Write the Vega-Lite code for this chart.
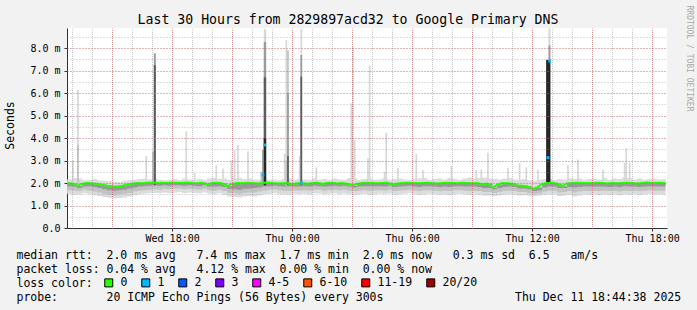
{
  "$schema": "https://vega.github.io/schema/vega-lite/v6.json",
  "width": 600,
  "height": 200,
  "autosize": {"type": "none"},
  "padding": {"left": 67, "top": 28, "right": 30, "bottom": 82},
  "background": "#f2f2f2",
  "config": {"font": "DejaVu Sans Mono", "view": {"fill": "#ffffff", "stroke": null}},
  "datasets": {
    "smoke": [
      {"t":"2025-12-10T12:45Z","m":2.0,"lo":1.52,"a":1.68,"b":1.86,"hi":2.16},
      {"t":"2025-12-10T13:00Z","m":1.98,"lo":1.48,"a":1.66,"b":1.84,"hi":2.22},
      {"t":"2025-12-10T13:15Z","m":1.87,"lo":1.5,"a":1.64,"b":1.78,"hi":2.2},
      {"t":"2025-12-10T13:30Z","m":1.97,"lo":1.55,"a":1.7,"b":1.85,"hi":2.12},
      {"t":"2025-12-10T13:45Z","m":2.0,"lo":1.5,"a":1.66,"b":1.86,"hi":2.14},
      {"t":"2025-12-10T14:00Z","m":1.99,"lo":1.47,"a":1.62,"b":1.82,"hi":2.18},
      {"t":"2025-12-10T14:15Z","m":1.96,"lo":1.42,"a":1.58,"b":1.78,"hi":2.12},
      {"t":"2025-12-10T14:30Z","m":1.92,"lo":1.38,"a":1.52,"b":1.72,"hi":2.1},
      {"t":"2025-12-10T14:45Z","m":1.88,"lo":1.34,"a":1.48,"b":1.68,"hi":2.08},
      {"t":"2025-12-10T15:00Z","m":1.86,"lo":1.32,"a":1.46,"b":1.66,"hi":2.06},
      {"t":"2025-12-10T15:15Z","m":1.84,"lo":1.33,"a":1.5,"b":1.68,"hi":2.05},
      {"t":"2025-12-10T15:30Z","m":1.88,"lo":1.36,"a":1.52,"b":1.7,"hi":2.1},
      {"t":"2025-12-10T15:45Z","m":1.93,"lo":1.4,"a":1.56,"b":1.76,"hi":2.12},
      {"t":"2025-12-10T16:00Z","m":1.97,"lo":1.46,"a":1.62,"b":1.8,"hi":2.15},
      {"t":"2025-12-10T16:15Z","m":2.0,"lo":1.5,"a":1.66,"b":1.84,"hi":2.18},
      {"t":"2025-12-10T16:30Z","m":1.99,"lo":1.52,"a":1.68,"b":1.86,"hi":2.2},
      {"t":"2025-12-10T16:45Z","m":2.01,"lo":1.55,"a":1.7,"b":1.88,"hi":2.16},
      {"t":"2025-12-10T17:00Z","m":2.02,"lo":1.56,"a":1.72,"b":1.9,"hi":2.2},
      {"t":"2025-12-10T17:15Z","m":2.0,"lo":1.55,"a":1.7,"b":1.88,"hi":2.14},
      {"t":"2025-12-10T17:30Z","m":2.01,"lo":1.58,"a":1.74,"b":1.9,"hi":2.12},
      {"t":"2025-12-10T17:45Z","m":2.0,"lo":1.55,"a":1.72,"b":1.88,"hi":2.15},
      {"t":"2025-12-10T18:00Z","m":2.02,"lo":1.57,"a":1.74,"b":1.9,"hi":2.18},
      {"t":"2025-12-10T18:15Z","m":2.01,"lo":1.6,"a":1.76,"b":1.9,"hi":2.13},
      {"t":"2025-12-10T18:30Z","m":2.0,"lo":1.55,"a":1.72,"b":1.88,"hi":2.2},
      {"t":"2025-12-10T18:45Z","m":2.02,"lo":1.58,"a":1.74,"b":1.9,"hi":2.16},
      {"t":"2025-12-10T19:00Z","m":2.0,"lo":1.56,"a":1.72,"b":1.88,"hi":2.14},
      {"t":"2025-12-10T19:15Z","m":1.99,"lo":1.54,"a":1.7,"b":1.86,"hi":2.18},
      {"t":"2025-12-10T19:30Z","m":2.01,"lo":1.58,"a":1.74,"b":1.9,"hi":2.15},
      {"t":"2025-12-10T19:45Z","m":1.94,"lo":1.52,"a":1.68,"b":1.84,"hi":2.2},
      {"t":"2025-12-10T20:00Z","m":2.0,"lo":1.5,"a":1.66,"b":1.84,"hi":2.22},
      {"t":"2025-12-10T20:15Z","m":2.01,"lo":1.55,"a":1.7,"b":1.86,"hi":2.18},
      {"t":"2025-12-10T20:30Z","m":1.98,"lo":1.48,"a":1.64,"b":1.82,"hi":2.2},
      {"t":"2025-12-10T20:45Z","m":1.86,"lo":1.4,"a":1.56,"b":1.74,"hi":2.14},
      {"t":"2025-12-10T21:00Z","m":1.96,"lo":1.38,"a":1.54,"b":1.72,"hi":2.2},
      {"t":"2025-12-10T21:15Z","m":2.0,"lo":1.36,"a":1.52,"b":1.7,"hi":2.22},
      {"t":"2025-12-10T21:30Z","m":1.99,"lo":1.4,"a":1.56,"b":1.74,"hi":2.18},
      {"t":"2025-12-10T21:45Z","m":2.01,"lo":1.42,"a":1.58,"b":1.76,"hi":2.2},
      {"t":"2025-12-10T22:00Z","m":2.0,"lo":1.4,"a":1.58,"b":1.78,"hi":2.16},
      {"t":"2025-12-10T22:15Z","m":1.98,"lo":1.45,"a":1.62,"b":1.8,"hi":2.15},
      {"t":"2025-12-10T22:30Z","m":2.0,"lo":1.5,"a":1.66,"b":1.84,"hi":2.2},
      {"t":"2025-12-10T22:45Z","m":2.02,"lo":1.52,"a":1.7,"b":1.86,"hi":2.14},
      {"t":"2025-12-10T23:00Z","m":2.0,"lo":1.55,"a":1.72,"b":1.88,"hi":2.16},
      {"t":"2025-12-10T23:15Z","m":1.98,"lo":1.5,"a":1.68,"b":1.86,"hi":2.12},
      {"t":"2025-12-10T23:30Z","m":1.99,"lo":1.5,"a":1.66,"b":1.84,"hi":2.18},
      {"t":"2025-12-10T23:45Z","m":2.0,"lo":1.48,"a":1.66,"b":1.86,"hi":2.2},
      {"t":"2025-12-11T00:00Z","m":1.95,"lo":1.52,"a":1.68,"b":1.84,"hi":2.15},
      {"t":"2025-12-11T00:15Z","m":1.99,"lo":1.5,"a":1.66,"b":1.84,"hi":2.18},
      {"t":"2025-12-11T00:30Z","m":2.0,"lo":1.52,"a":1.68,"b":1.86,"hi":2.16},
      {"t":"2025-12-11T00:45Z","m":1.97,"lo":1.5,"a":1.66,"b":1.84,"hi":2.14},
      {"t":"2025-12-11T01:00Z","m":2.0,"lo":1.55,"a":1.7,"b":1.88,"hi":2.2},
      {"t":"2025-12-11T01:15Z","m":2.01,"lo":1.53,"a":1.7,"b":1.86,"hi":2.16},
      {"t":"2025-12-11T01:30Z","m":1.96,"lo":1.5,"a":1.66,"b":1.84,"hi":2.18},
      {"t":"2025-12-11T01:45Z","m":2.0,"lo":1.52,"a":1.68,"b":1.86,"hi":2.14},
      {"t":"2025-12-11T02:00Z","m":2.01,"lo":1.55,"a":1.7,"b":1.88,"hi":2.2},
      {"t":"2025-12-11T02:15Z","m":1.98,"lo":1.5,"a":1.68,"b":1.86,"hi":2.16},
      {"t":"2025-12-11T02:30Z","m":2.0,"lo":1.53,"a":1.7,"b":1.88,"hi":2.15},
      {"t":"2025-12-11T02:45Z","m":1.97,"lo":1.5,"a":1.66,"b":1.84,"hi":2.22},
      {"t":"2025-12-11T03:00Z","m":1.88,"lo":1.48,"a":1.64,"b":1.8,"hi":2.2},
      {"t":"2025-12-11T03:15Z","m":1.97,"lo":1.5,"a":1.66,"b":1.84,"hi":2.15},
      {"t":"2025-12-11T03:30Z","m":2.0,"lo":1.52,"a":1.68,"b":1.86,"hi":2.18},
      {"t":"2025-12-11T03:45Z","m":2.01,"lo":1.48,"a":1.66,"b":1.86,"hi":2.2},
      {"t":"2025-12-11T04:00Z","m":2.0,"lo":1.5,"a":1.68,"b":1.86,"hi":2.14},
      {"t":"2025-12-11T04:15Z","m":1.99,"lo":1.52,"a":1.68,"b":1.86,"hi":2.16},
      {"t":"2025-12-11T04:30Z","m":2.0,"lo":1.5,"a":1.66,"b":1.84,"hi":2.2},
      {"t":"2025-12-11T04:45Z","m":2.01,"lo":1.53,"a":1.7,"b":1.88,"hi":2.15},
      {"t":"2025-12-11T05:00Z","m":1.93,"lo":1.48,"a":1.64,"b":1.82,"hi":2.18},
      {"t":"2025-12-11T05:15Z","m":1.98,"lo":1.5,"a":1.66,"b":1.84,"hi":2.2},
      {"t":"2025-12-11T05:30Z","m":2.0,"lo":1.52,"a":1.68,"b":1.86,"hi":2.16},
      {"t":"2025-12-11T05:45Z","m":2.01,"lo":1.55,"a":1.7,"b":1.88,"hi":2.14},
      {"t":"2025-12-11T06:00Z","m":2.0,"lo":1.5,"a":1.66,"b":1.84,"hi":2.18},
      {"t":"2025-12-11T06:15Z","m":1.99,"lo":1.48,"a":1.64,"b":1.82,"hi":2.2},
      {"t":"2025-12-11T06:30Z","m":2.0,"lo":1.5,"a":1.68,"b":1.86,"hi":2.22},
      {"t":"2025-12-11T06:45Z","m":2.01,"lo":1.52,"a":1.68,"b":1.86,"hi":2.15},
      {"t":"2025-12-11T07:00Z","m":2.0,"lo":1.5,"a":1.66,"b":1.84,"hi":2.18},
      {"t":"2025-12-11T07:15Z","m":1.98,"lo":1.48,"a":1.64,"b":1.82,"hi":2.2},
      {"t":"2025-12-11T07:30Z","m":2.0,"lo":1.5,"a":1.66,"b":1.84,"hi":2.16},
      {"t":"2025-12-11T07:45Z","m":2.01,"lo":1.47,"a":1.64,"b":1.82,"hi":2.22},
      {"t":"2025-12-11T08:00Z","m":2.0,"lo":1.5,"a":1.68,"b":1.86,"hi":2.18},
      {"t":"2025-12-11T08:15Z","m":1.99,"lo":1.52,"a":1.68,"b":1.86,"hi":2.14},
      {"t":"2025-12-11T08:30Z","m":2.01,"lo":1.5,"a":1.66,"b":1.84,"hi":2.2},
      {"t":"2025-12-11T08:45Z","m":2.0,"lo":1.48,"a":1.64,"b":1.84,"hi":2.25},
      {"t":"2025-12-11T09:00Z","m":1.99,"lo":1.5,"a":1.66,"b":1.84,"hi":2.2},
      {"t":"2025-12-11T09:15Z","m":2.0,"lo":1.48,"a":1.64,"b":1.82,"hi":2.22},
      {"t":"2025-12-11T09:30Z","m":1.95,"lo":1.45,"a":1.6,"b":1.78,"hi":2.25},
      {"t":"2025-12-11T09:45Z","m":1.98,"lo":1.44,"a":1.6,"b":1.78,"hi":2.2},
      {"t":"2025-12-11T10:00Z","m":1.8,"lo":1.42,"a":1.56,"b":1.72,"hi":2.18},
      {"t":"2025-12-11T10:15Z","m":1.92,"lo":1.45,"a":1.6,"b":1.78,"hi":2.16},
      {"t":"2025-12-11T10:30Z","m":2.0,"lo":1.48,"a":1.64,"b":1.82,"hi":2.2},
      {"t":"2025-12-11T10:45Z","m":1.99,"lo":1.5,"a":1.66,"b":1.84,"hi":2.22},
      {"t":"2025-12-11T11:00Z","m":1.97,"lo":1.48,"a":1.64,"b":1.82,"hi":2.16},
      {"t":"2025-12-11T11:15Z","m":1.9,"lo":1.45,"a":1.6,"b":1.76,"hi":2.14},
      {"t":"2025-12-11T11:30Z","m":1.88,"lo":1.46,"a":1.6,"b":1.76,"hi":2.18},
      {"t":"2025-12-11T11:45Z","m":1.86,"lo":1.43,"a":1.56,"b":1.72,"hi":2.12},
      {"t":"2025-12-11T12:00Z","m":1.74,"lo":1.42,"a":1.52,"b":1.64,"hi":2.1},
      {"t":"2025-12-11T12:15Z","m":1.8,"lo":1.44,"a":1.54,"b":1.68,"hi":2.14},
      {"t":"2025-12-11T12:30Z","m":1.96,"lo":1.48,"a":1.62,"b":1.8,"hi":2.18},
      {"t":"2025-12-11T12:45Z","m":2.0,"lo":1.5,"a":1.66,"b":1.84,"hi":2.2},
      {"t":"2025-12-11T13:00Z","m":2.01,"lo":1.5,"a":1.66,"b":1.84,"hi":2.15},
      {"t":"2025-12-11T13:15Z","m":1.97,"lo":1.42,"a":1.58,"b":1.78,"hi":2.18},
      {"t":"2025-12-11T13:30Z","m":1.86,"lo":1.45,"a":1.6,"b":1.78,"hi":2.16},
      {"t":"2025-12-11T13:45Z","m":1.98,"lo":1.48,"a":1.64,"b":1.82,"hi":2.2},
      {"t":"2025-12-11T14:00Z","m":2.0,"lo":1.4,"a":1.58,"b":1.8,"hi":2.18},
      {"t":"2025-12-11T14:15Z","m":2.01,"lo":1.45,"a":1.62,"b":1.82,"hi":2.2},
      {"t":"2025-12-11T14:30Z","m":2.0,"lo":1.5,"a":1.66,"b":1.84,"hi":2.15},
      {"t":"2025-12-11T14:45Z","m":1.99,"lo":1.48,"a":1.64,"b":1.84,"hi":2.18},
      {"t":"2025-12-11T15:00Z","m":2.0,"lo":1.5,"a":1.66,"b":1.84,"hi":2.2},
      {"t":"2025-12-11T15:15Z","m":2.01,"lo":1.47,"a":1.64,"b":1.84,"hi":2.16},
      {"t":"2025-12-11T15:30Z","m":2.0,"lo":1.5,"a":1.66,"b":1.84,"hi":2.22},
      {"t":"2025-12-11T15:45Z","m":1.98,"lo":1.48,"a":1.64,"b":1.82,"hi":2.15},
      {"t":"2025-12-11T16:00Z","m":2.0,"lo":1.5,"a":1.66,"b":1.84,"hi":2.2},
      {"t":"2025-12-11T16:15Z","m":1.99,"lo":1.46,"a":1.62,"b":1.82,"hi":2.18},
      {"t":"2025-12-11T16:30Z","m":2.0,"lo":1.5,"a":1.66,"b":1.86,"hi":2.25},
      {"t":"2025-12-11T16:45Z","m":2.01,"lo":1.48,"a":1.64,"b":1.84,"hi":2.22},
      {"t":"2025-12-11T17:00Z","m":2.0,"lo":1.5,"a":1.66,"b":1.84,"hi":2.16},
      {"t":"2025-12-11T17:15Z","m":1.98,"lo":1.47,"a":1.64,"b":1.82,"hi":2.2},
      {"t":"2025-12-11T17:30Z","m":2.0,"lo":1.5,"a":1.66,"b":1.84,"hi":2.15},
      {"t":"2025-12-11T17:45Z","m":2.02,"lo":1.52,"a":1.68,"b":1.86,"hi":2.18},
      {"t":"2025-12-11T18:00Z","m":2.0,"lo":1.48,"a":1.64,"b":1.84,"hi":2.2},
      {"t":"2025-12-11T18:15Z","m":2.01,"lo":1.5,"a":1.66,"b":1.84,"hi":2.16},
      {"t":"2025-12-11T18:30Z","m":2.0,"lo":1.48,"a":1.66,"b":1.84,"hi":2.18},
      {"t":"2025-12-11T18:40Z","m":2.0,"lo":1.5,"a":1.66,"b":1.84,"hi":2.18}
    ],
    "spikes": [
      {"t":"2025-12-10T13:00Z","t2":"2025-12-10T13:05Z","lo":2.0,"hi":3.0,"g":"l"},
      {"t":"2025-12-10T13:15Z","t2":"2025-12-10T13:20Z","lo":2.0,"hi":6.13,"g":"l"},
      {"t":"2025-12-10T13:15Z","t2":"2025-12-10T13:20Z","lo":2.0,"hi":3.7,"g":"l2"},
      {"t":"2025-12-10T16:40Z","t2":"2025-12-10T16:45Z","lo":2.0,"hi":3.2,"g":"l"},
      {"t":"2025-12-10T17:00Z","t2":"2025-12-10T17:05Z","lo":2.0,"hi":3.4,"g":"l2"},
      {"t":"2025-12-10T17:05Z","t2":"2025-12-10T17:11Z","lo":1.9,"hi":7.76,"g":"m"},
      {"t":"2025-12-10T17:05Z","t2":"2025-12-10T17:11Z","lo":1.9,"hi":7.24,"g":"d"},
      {"t":"2025-12-10T18:40Z","t2":"2025-12-10T18:45Z","lo":2.0,"hi":4.3,"g":"l"},
      {"t":"2025-12-10T19:05Z","t2":"2025-12-10T19:10Z","lo":2.0,"hi":2.45,"g":"l"},
      {"t":"2025-12-10T20:10Z","t2":"2025-12-10T20:15Z","lo":2.0,"hi":2.8,"g":"l"},
      {"t":"2025-12-10T20:30Z","t2":"2025-12-10T20:35Z","lo":2.0,"hi":2.65,"g":"l"},
      {"t":"2025-12-10T20:55Z","t2":"2025-12-10T21:00Z","lo":2.0,"hi":3.0,"g":"l"},
      {"t":"2025-12-10T21:05Z","t2":"2025-12-10T21:10Z","lo":2.0,"hi":3.47,"g":"l"},
      {"t":"2025-12-10T21:15Z","t2":"2025-12-10T21:20Z","lo":2.0,"hi":3.69,"g":"l"},
      {"t":"2025-12-10T21:45Z","t2":"2025-12-10T21:50Z","lo":2.0,"hi":3.4,"g":"l"},
      {"t":"2025-12-10T22:25Z","t2":"2025-12-10T22:30Z","lo":2.0,"hi":2.5,"g":"l2"},
      {"t":"2025-12-10T22:30Z","t2":"2025-12-10T22:35Z","lo":1.9,"hi":3.47,"g":"m"},
      {"t":"2025-12-10T22:35Z","t2":"2025-12-10T22:42Z","lo":1.9,"hi":8.84,"g":"l"},
      {"t":"2025-12-10T22:35Z","t2":"2025-12-10T22:42Z","lo":1.9,"hi":8.27,"g":"m"},
      {"t":"2025-12-10T22:35Z","t2":"2025-12-10T22:42Z","lo":1.9,"hi":6.7,"g":"d"},
      {"t":"2025-12-10T22:35Z","t2":"2025-12-10T22:42Z","lo":1.9,"hi":4.0,"g":"k"},
      {"t":"2025-12-10T23:35Z","t2":"2025-12-10T23:40Z","lo":2.0,"hi":3.3,"g":"l"},
      {"t":"2025-12-10T23:40Z","t2":"2025-12-10T23:45Z","lo":1.9,"hi":8.36,"g":"l"},
      {"t":"2025-12-10T23:40Z","t2":"2025-12-10T23:45Z","lo":1.9,"hi":3.0,"g":"l2"},
      {"t":"2025-12-10T23:45Z","t2":"2025-12-10T23:50Z","lo":1.9,"hi":7.9,"g":"l2"},
      {"t":"2025-12-10T23:45Z","t2":"2025-12-10T23:50Z","lo":1.9,"hi":6.0,"g":"m"},
      {"t":"2025-12-10T23:45Z","t2":"2025-12-10T23:50Z","lo":1.9,"hi":3.2,"g":"d"},
      {"t":"2025-12-11T00:20Z","t2":"2025-12-11T00:25Z","lo":2.0,"hi":3.2,"g":"l"},
      {"t":"2025-12-11T00:25Z","t2":"2025-12-11T00:30Z","lo":1.9,"hi":8.84,"g":"l"},
      {"t":"2025-12-11T00:25Z","t2":"2025-12-11T00:30Z","lo":1.9,"hi":7.69,"g":"m"},
      {"t":"2025-12-11T00:25Z","t2":"2025-12-11T00:30Z","lo":1.9,"hi":6.72,"g":"d"},
      {"t":"2025-12-11T01:10Z","t2":"2025-12-11T01:15Z","lo":2.0,"hi":2.68,"g":"l"},
      {"t":"2025-12-11T02:55Z","t2":"2025-12-11T03:05Z","lo":2.0,"hi":5.54,"g":"l"},
      {"t":"2025-12-11T03:00Z","t2":"2025-12-11T03:05Z","lo":2.0,"hi":8.06,"g":"l"},
      {"t":"2025-12-11T03:05Z","t2":"2025-12-11T03:10Z","lo":2.0,"hi":3.9,"g":"l"},
      {"t":"2025-12-11T03:45Z","t2":"2025-12-11T03:50Z","lo":2.0,"hi":3.1,"g":"l"},
      {"t":"2025-12-11T03:50Z","t2":"2025-12-11T03:55Z","lo":2.0,"hi":7.24,"g":"l"},
      {"t":"2025-12-11T04:35Z","t2":"2025-12-11T04:40Z","lo":2.0,"hi":2.5,"g":"l"},
      {"t":"2025-12-11T04:40Z","t2":"2025-12-11T04:45Z","lo":2.0,"hi":4.24,"g":"l"},
      {"t":"2025-12-11T05:15Z","t2":"2025-12-11T05:20Z","lo":2.0,"hi":2.68,"g":"l"},
      {"t":"2025-12-11T06:10Z","t2":"2025-12-11T06:15Z","lo":2.0,"hi":3.29,"g":"l"},
      {"t":"2025-12-11T06:30Z","t2":"2025-12-11T06:35Z","lo":2.0,"hi":2.57,"g":"l"},
      {"t":"2025-12-11T07:55Z","t2":"2025-12-11T08:00Z","lo":2.0,"hi":2.76,"g":"l"},
      {"t":"2025-12-11T09:10Z","t2":"2025-12-11T09:15Z","lo":2.0,"hi":2.57,"g":"l"},
      {"t":"2025-12-11T09:25Z","t2":"2025-12-11T09:30Z","lo":2.0,"hi":2.6,"g":"l"},
      {"t":"2025-12-11T09:45Z","t2":"2025-12-11T09:50Z","lo":2.0,"hi":3.35,"g":"l"},
      {"t":"2025-12-11T10:45Z","t2":"2025-12-11T10:50Z","lo":2.0,"hi":2.68,"g":"l"},
      {"t":"2025-12-11T11:20Z","t2":"2025-12-11T11:25Z","lo":2.0,"hi":2.9,"g":"l"},
      {"t":"2025-12-11T11:40Z","t2":"2025-12-11T11:45Z","lo":2.0,"hi":2.7,"g":"l"},
      {"t":"2025-12-11T12:15Z","t2":"2025-12-11T12:20Z","lo":2.0,"hi":2.6,"g":"l"},
      {"t":"2025-12-11T12:42Z","t2":"2025-12-11T12:55Z","lo":2.0,"hi":7.47,"g":"k"},
      {"t":"2025-12-11T12:49Z","t2":"2025-12-11T12:55Z","lo":7.47,"hi":8.13,"g":"m"},
      {"t":"2025-12-11T12:49Z","t2":"2025-12-11T12:55Z","lo":8.13,"hi":8.87,"g":"l"},
      {"t":"2025-12-11T13:45Z","t2":"2025-12-11T13:50Z","lo":2.0,"hi":2.8,"g":"l"},
      {"t":"2025-12-11T14:15Z","t2":"2025-12-11T14:20Z","lo":2.0,"hi":3.05,"g":"l"},
      {"t":"2025-12-11T15:30Z","t2":"2025-12-11T15:35Z","lo":2.0,"hi":2.6,"g":"l"},
      {"t":"2025-12-11T16:35Z","t2":"2025-12-11T16:40Z","lo":2.0,"hi":2.9,"g":"l"},
      {"t":"2025-12-11T16:40Z","t2":"2025-12-11T16:45Z","lo":2.0,"hi":3.54,"g":"l"},
      {"t":"2025-12-11T16:50Z","t2":"2025-12-11T16:55Z","lo":2.0,"hi":2.9,"g":"l"}
    ],
    "loss": [
      {"t":"2025-12-10T22:32:30Z","m":2.36,"loss":"1"},
      {"t":"2025-12-10T22:37:30Z","m":3.69,"loss":"1"},
      {"t":"2025-12-11T00:27:30Z","m":2.03,"loss":"1"},
      {"t":"2025-12-11T12:47:30Z","m":3.13,"loss":"1"},
      {"t":"2025-12-11T12:52:30Z","m":7.42,"loss":"1"}
    ]
  },
  "layer": [
    {
      "data": {"name": "smoke"},
      "mark": {"type": "area", "interpolate": "step-after", "color": "#dcdcdc"},
      "encoding": {
        "x": {"field": "t", "type": "temporal",
          "scale": {"type": "utc", "domain": [1765370678000, 1765478678000]},
          "axis": {"orient": "bottom", "grid": true, "gridColor": "#8f8f8f", "gridOpacity": 0.5, "gridDash": [1, 1], "gridDashOffset": 0.5,
            "values": [1765371600000,1765375200000,1765378800000,1765382400000,1765386000000,1765389600000,1765393200000,1765396800000,1765400400000,1765404000000,1765407600000,1765411200000,1765414800000,1765418400000,1765422000000,1765425600000,1765429200000,1765432800000,1765436400000,1765440000000,1765443600000,1765447200000,1765450800000,1765454400000,1765458000000,1765461600000,1765465200000,1765468800000,1765472400000,1765476000000],
            "labels": false, "ticks": false, "domain": false, "title": null, "zindex": 1}},
        "y": {"field": "lo", "type": "quantitative", "scale": {"domain": [0, 8.89], "nice": false, "zero": true},
          "axis": {"orient": "left", "grid": true, "gridColor": "#8f8f8f", "gridOpacity": 0.6, "gridDash": [1, 2], "gridDashOffset": 0, "values": [0.5, 1, 1.5, 2, 2.5, 3, 3.5, 4, 4.5, 5, 5.5, 6, 6.5, 7, 7.5, 8, 8.5], "labels": false, "ticks": false, "domain": false, "title": null, "zindex": 1}},
        "y2": {"field": "hi"}
      }
    },
    {
      "data": {"name": "smoke"},
      "mark": {"type": "area", "interpolate": "step-after", "color": "#c2c2c2"},
      "encoding": {
        "x": {"field": "t", "type": "temporal",
          "scale": {"type": "utc", "domain": [1765370678000, 1765478678000]},
          "axis": {"orient": "bottom", "grid": true, "gridColor": "#de5050", "gridOpacity": 0.45, "gridDash": [1, 1], "gridDashOffset": 0.5,
            "values": [1765378800000,1765389600000,1765400400000,1765411200000,1765422000000,1765432800000,1765443600000,1765454400000,1765465200000,1765476000000],
            "labels": false, "ticks": false, "domain": false, "title": null, "zindex": 1}},
        "y": {"field": "a", "type": "quantitative", "scale": {"domain": [0, 8.89], "nice": false, "zero": true},
          "axis": {"orient": "left", "grid": true, "gridColor": "#de5050", "gridOpacity": 0.6, "gridDash": [1, 2], "gridDashOffset": 0, "values": [1, 2, 3, 4, 5, 6, 7, 8], "labels": false, "ticks": false, "domain": false, "title": null, "zindex": 1}},
        "y2": {"field": "m"}
      }
    },
    {
      "data": {"name": "smoke"},
      "mark": {"type": "area", "interpolate": "step-after", "color": "#989898"},
      "encoding": {
        "x": {"field": "t", "type": "temporal",
          "scale": {"type": "utc", "domain": [1765370678000, 1765478678000]},
          "axis": {"orient": "bottom", "grid": false,
            "values": [1765389600000,1765411200000,1765432800000,1765454400000,1765476000000],
            "labelExpr": "utcFormat(datum.value, '%a %H:%M')", "labelFont": "DejaVu Sans Mono", "labelFontSize": 10, "labelColor": "#000000", "labelPadding": 2, "labelFlush": false, "labelOverlap": false,
            "ticks": true, "tickSize": 3, "tickColor": "#303030", "domain": true, "domainColor": "#303030",
            "title": ["median rtt:\u00a0\u00a02.0 ms avg\u00a0\u00a0\u00a07.4 ms max\u00a0\u00a01.7 ms min\u00a0\u00a02.0 ms now\u00a0\u00a0\u00a00.3 ms sd\u00a0\u00a06.5\u00a0\u00a0\u00a0am/s", "packet loss:\u00a00.04 % avg\u00a0\u00a0\u00a04.12 % max\u00a0\u00a00.00 % min\u00a0\u00a00.00 % now", "loss color:", "probe:\u00a0\u00a0\u00a0\u00a0\u00a0\u00a0\u00a020 ICMP Echo Pings (56 Bytes) every 300s\u00a0\u00a0\u00a0\u00a0\u00a0\u00a0\u00a0\u00a0\u00a0\u00a0\u00a0\u00a0\u00a0\u00a0\u00a0\u00a0\u00a0\u00a0\u00a0Thu Dec 11 18:44:38 2025"],
            "titleFont": "DejaVu Sans Mono", "titleFontSize": 11.5, "titleFontWeight": "normal", "titleColor": "#000000", "titleLineHeight": 14, "titleAlign": "left", "titleBaseline": "alphabetic", "titleX": -51, "titleY": 30}},
        "y": {"field": "b", "type": "quantitative", "scale": {"domain": [0, 8.89], "nice": false, "zero": true},
          "axis": {"orient": "left", "grid": false, "values": [0, 1, 2, 3, 4, 5, 6, 7, 8],
            "labelExpr": "datum.value == 0 ? '0.0' : format(datum.value, '.1f') + ' m'", "labelFont": "DejaVu Sans Mono", "labelFontSize": 10, "labelColor": "#000000", "labelPadding": 4,
            "ticks": true, "tickSize": 3, "tickColor": "#303030", "domain": true, "domainColor": "#303030",
            "title": "Seconds", "titleFont": "DejaVu Sans Mono", "titleFontSize": 11.5, "titleFontWeight": "normal", "titleColor": "#000000", "titleAngle": 270, "titleAlign": "center", "titleBaseline": "middle", "titleX": -57, "titleY": 97}},
        "y2": {"field": "m"}
      }
    },
    {
      "data": {"name": "spikes"},
      "mark": {"type": "rect"},
      "encoding": {
        "x": {"field": "t", "type": "temporal",
          "scale": {"type": "utc", "domain": [1765370678000, 1765478678000]},
          "axis": null},
        "x2": {"field": "t2"},
        "y": {"field": "lo", "type": "quantitative", "scale": {"domain": [0, 8.89], "nice": false, "zero": true},
          "axis": {"orient": "right", "grid": false, "labels": false, "ticks": false, "domain": false,
            "title": "RRDTOOL / TOBI OETIKER", "titleFont": "DejaVu Sans Mono", "titleFontSize": 8, "titleFontWeight": "normal", "titleColor": "#a8a8a8", "titleAngle": 90, "titleAlign": "left", "titleBaseline": "middle", "titleX": 21, "titleY": -23}},
        "y2": {"field": "hi"},
        "fill": {"field": "g", "type": "nominal", "legend": null,
          "scale": {"domain": ["l", "l2", "m", "d", "k"], "range": ["#d6d6d6", "#c0c0c0", "#9a9a9a", "#5c5c5c", "#262626"]}}
      }
    },
    {
      "data": {"name": "smoke"},
      "mark": {"type": "line", "color": "#26ff00", "strokeWidth": 2},
      "encoding": {
        "x": {"field": "t", "type": "temporal",
          "scale": {"type": "utc", "domain": [1765370678000, 1765478678000]},
          "axis": {"orient": "top", "grid": false, "labels": false, "ticks": false, "domain": false,
            "title": "Last 30 Hours from 2829897acd32 to Google Primary DNS", "titleFont": "DejaVu Sans Mono", "titleFontSize": 13.2, "titleFontWeight": "normal", "titleColor": "#000000", "titleAlign": "center", "titleBaseline": "alphabetic", "titleX": 280.5, "titleY": -5}},
        "y": {"field": "m", "type": "quantitative", "scale": {"domain": [0, 8.89], "nice": false, "zero": true}, "axis": null}
      }
    },
    {
      "data": {"name": "loss"},
      "mark": {"type": "square", "size": 8, "opacity": 1},
      "encoding": {
        "x": {"field": "t", "type": "temporal",
          "scale": {"type": "utc", "domain": [1765370678000, 1765478678000]},
          "axis": null},
        "y": {"field": "m", "type": "quantitative", "scale": {"domain": [0, 8.89], "nice": false, "zero": true}, "axis": null},
        "color": {"field": "loss", "type": "nominal",
          "scale": {"domain": ["0", "1", "2", "3", "4-5", "6-10", "11-19", "20/20"], "range": ["#26ff00", "#00b8ff", "#0059ff", "#7e00ff", "#ff00ff", "#ff5500", "#ff0000", "#a10000"]},
          "legend": {"orient": "none", "legendX": 36, "legendY": 249, "direction": "horizontal", "columns": 8, "title": null, "padding": 0,
            "symbolType": "square", "symbolSize": 64, "symbolStrokeColor": "#000000", "symbolStrokeWidth": 1, "symbolOpacity": 1,
            "labelFont": "DejaVu Sans Mono", "labelFontSize": 11.5, "labelColor": "#000000", "labelOffset": 6, "columnPadding": 11}}
      }
    },
    {
      "mark": {"type": "point", "shape": "triangle-right", "filled": true, "size": 22, "color": "#7f1f1f", "opacity": 1},
      "encoding": {
        "x": {"datum": 1765479218000, "type": "temporal", "scale": {"type": "utc", "domain": [1765370678000, 1765478678000]}, "axis": null},
        "y": {"datum": 0, "type": "quantitative", "scale": {"domain": [0, 8.89], "nice": false, "zero": true}, "axis": null}
      }
    },
    {
      "mark": {"type": "point", "shape": "triangle-up", "filled": true, "size": 22, "color": "#7f1f1f", "opacity": 1},
      "encoding": {
        "x": {"datum": 1765370678000, "type": "temporal", "scale": {"type": "utc", "domain": [1765370678000, 1765478678000]}, "axis": null},
        "y": {"datum": 9.07, "type": "quantitative", "scale": {"domain": [0, 8.89], "nice": false, "zero": true}, "axis": null}
      }
    }
  ],
  "resolve": {"scale": {"x": "shared", "y": "shared"}, "axis": {"x": "independent", "y": "independent"}}
}
